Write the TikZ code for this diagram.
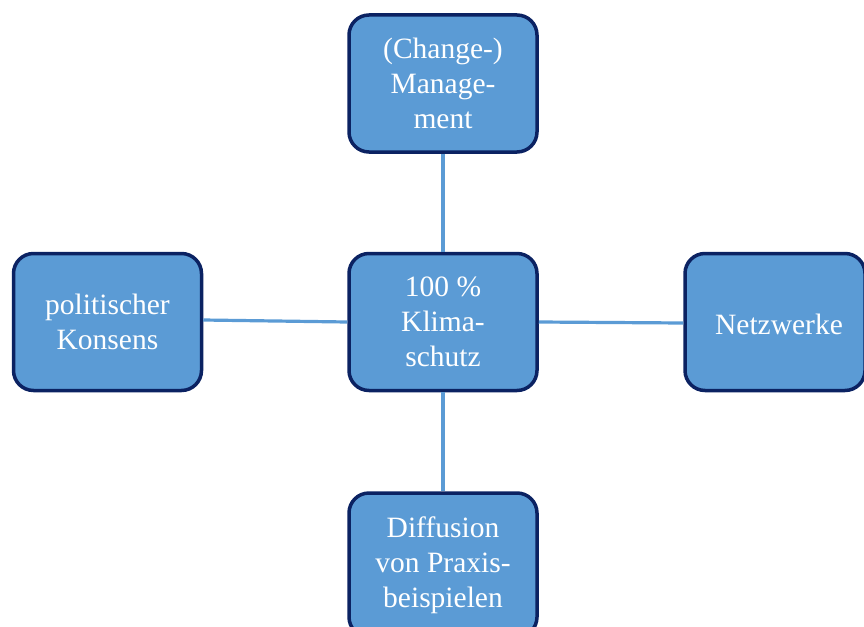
\documentclass[tikz,border=0pt]{standalone}
\usepackage{fontspec}
\setmainfont{Liberation Serif}
\definecolor{boxfill}{HTML}{5B9BD5}
\definecolor{boxline}{HTML}{0B2262}
\definecolor{linkcol}{HTML}{5B9BD5}
\begin{document}
\begin{tikzpicture}[x=1pt,y=-1pt,
  topic/.style={draw=boxline,line width=3.5pt,fill=boxfill,rounded corners=20pt,
    minimum width=188pt,minimum height=137pt,inner sep=0pt,align=center,
    text=white,font=\fontsize{29.5}{35}\selectfont},
  link/.style={draw=linkcol,line width=3.2pt}]
\useasboundingbox (0,0) rectangle (864,626);
\clip (0,0) rectangle (864,626);
\node[topic] (top) at (443,83.5) {(Change-)\\Manage-\\ment};
\node[topic] (mid) at (443,322) {100 \%\\Klima-\\schutz};
\node[topic] (left) at (107.5,322) {politischer\\Konsens};
\node[topic,minimum width=180pt] (right) at (775,322) {};
\node[text=white,font=\fontsize{29.5}{35}\selectfont] (righttext) at (779,324) {Netzwerke};
\node[topic,minimum height=144pt] (bot) at (443,565) {Diffusion\\von Praxis-\\beispielen};
\draw[link] (top.south) -- (mid.north);
\draw[link] (mid.south) -- (bot.north);
\draw[link] ([yshift=2pt]left.east) -- (mid.west);
\draw[link] (mid.east) -- ([yshift=-1pt]right.west);
\end{tikzpicture}
\end{document}
